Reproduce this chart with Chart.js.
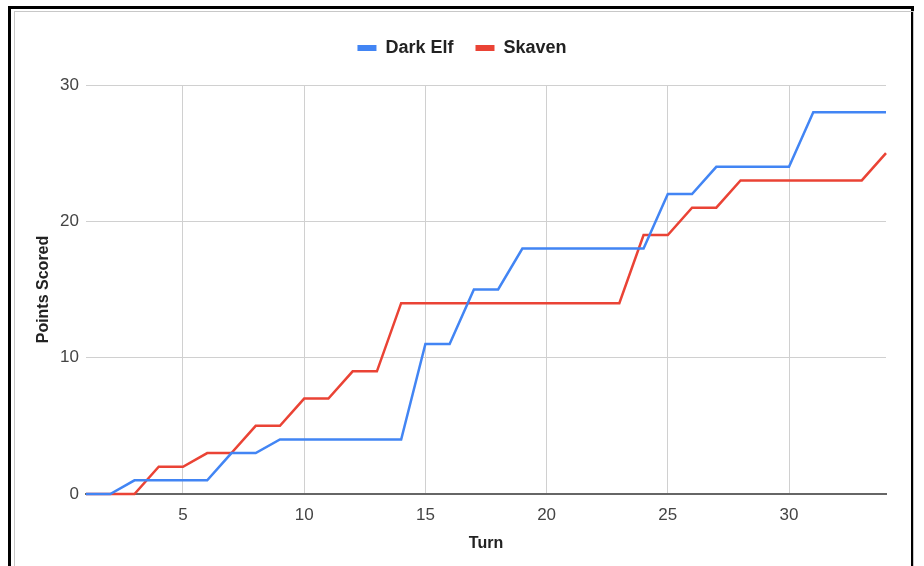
<!DOCTYPE html>
<html>
<head>
<meta charset="utf-8">
<script src="https://cdn.jsdelivr.net/npm/chart.js@4"></script>
<style>
  html, body { margin: 0; padding: 0; background: #fff; }
  #wrap { position: relative; width: 924px; height: 566px; overflow: hidden; }
  #outer { position: absolute; left: 8px; top: 6px; width: 906px; height: 600px; border: 3px solid #000; box-sizing: border-box; }
  #inner { position: absolute; left: 14px; top: 11px; width: 900px; height: 600px; border: 1px solid #c8c8c8; box-sizing: border-box; }
  canvas { position: absolute; left: 0; top: 0; }
</style>
</head>
<body>
<div id="wrap">
  <div id="outer"></div>
  <div id="inner"></div>
  <canvas id="c" width="924" height="566"></canvas>
</div>
<script>
// Points scored per turn for each army
const turns = [1,2,3,4,5,6,7,8,9,10,11,12,13,14,15,16,17,18,19,20,21,22,23,24,25,26,27,28,29,30,31,32,33,34];
const darkElf = [0,0,1,1,1,1,3,3,4,4,4,4,4,4,11,11,15,15,18,18,18,18,18,18,22,22,24,24,24,24,28,28,28,28];
const skaven  = [0,0,0,2,2,3,3,5,5,7,7,9,9,14,14,14,14,14,14,14,14,14,14,19,19,21,21,23,23,23,23,23,23,25];
const xTicks = [5,10,15,20,25,30];
const yTicks = [0,10,20,30];

const toPoints = vals => turns.map((t, i) => ({ x: t, y: vals[i] }));

new Chart(document.getElementById('c'), {
  type: 'line',
  data: {
    datasets: [
      { label: 'Dark Elf', data: toPoints(darkElf), borderColor: '#4285F4', backgroundColor: '#4285F4',
        borderWidth: 2.5, pointRadius: 0, tension: 0, clip: false },
      { label: 'Skaven', data: toPoints(skaven), borderColor: '#EA4335', backgroundColor: '#EA4335',
        borderWidth: 2.5, pointRadius: 0, tension: 0, clip: false }
    ]
  },
  options: {
    responsive: false,
    animation: false,
    layout: { padding: { top: 17, left: 0, right: 0, bottom: 0 } },
    plugins: {
      legend: {
        position: 'top',
        labels: {
          boxWidth: 19, boxHeight: 6, padding: 22, color: '#222',
          font: { family: 'Liberation Sans', size: 18, weight: 'bold' },
          generateLabels: chart => Chart.defaults.plugins.legend.labels.generateLabels(chart)
            .map(item => Object.assign(item, { lineWidth: 0 }))
        }
      },
      tooltip: { enabled: false }
    },
    scales: {
      x: {
        type: 'linear', min: 1, max: 34,
        afterBuildTicks: s => { s.ticks = xTicks.map(v => ({ value: v })); },
        afterFit: s => { s.height = 72; },
        grid: { color: '#d0d0d0', lineWidth: 1, drawTicks: false },
        border: { display: true, color: '#666', width: 2 },
        ticks: { padding: 11, color: '#444', font: { family: 'Liberation Sans', size: 17 }, maxRotation: 0 },
        title: { display: true, text: 'Turn', color: '#222',
                 font: { family: 'Liberation Sans', size: 16, weight: 'bold' }, padding: { top: 0, bottom: 13 } }
      },
      xTop: {
        type: 'linear', position: 'top', display: true,
        afterFit: s => { s.height = 18; },
        grid: { display: false, drawTicks: false },
        border: { display: false },
        ticks: { display: false }
      },
      y: {
        type: 'linear', min: 0, max: 30,
        afterBuildTicks: s => { s.ticks = yTicks.map(v => ({ value: v })); },
        afterFit: s => { s.width = 86; },
        grid: { color: ctx => ctx.tick && ctx.tick.value === 0 ? 'rgba(0,0,0,0)' : '#d0d0d0', lineWidth: 1, drawTicks: false },
        border: { display: false },
        ticks: { padding: 7, color: '#444', font: { family: 'Liberation Sans', size: 17 } },
        title: { display: true, text: 'Points Scored', color: '#222',
                 font: { family: 'Liberation Sans', size: 16, weight: 'bold' }, padding: { top: 34, bottom: 0 } }
      },
      yRight: {
        position: 'right', display: true,
        afterFit: s => { s.width = 38; },
        grid: { display: false, drawTicks: false },
        border: { display: false },
        ticks: { display: false }
      }
    }
  }
});
</script>
</body>
</html>
